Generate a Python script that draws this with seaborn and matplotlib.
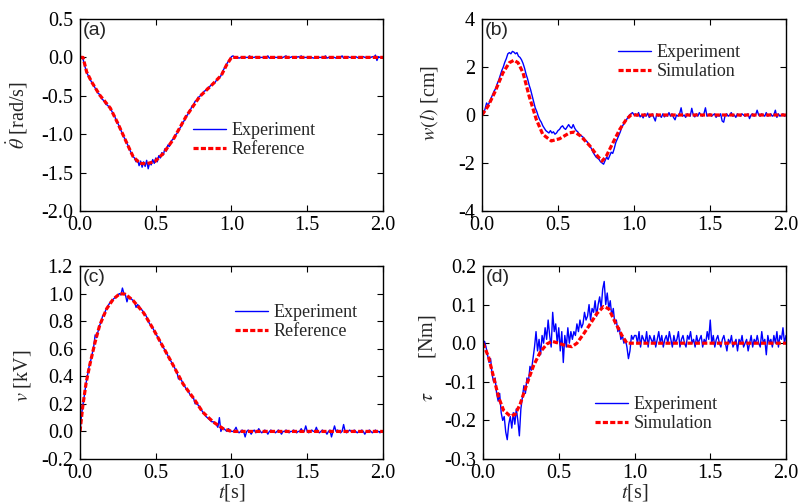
import numpy as np
import pandas as pd
import matplotlib
matplotlib.use("Agg")
import matplotlib.pyplot as plt
import seaborn as sns

# ---------------- data ----------------
dt = 0.01
t_exp = np.round(np.arange(0, 201) * dt, 2)

# (a) angular velocity
ref_a_t = [0.0, 0.02, 0.044, 0.077, 0.13, 0.20, 0.25, 0.31, 0.35, 0.395, 0.44, 0.495,
           0.55, 0.615, 0.70, 0.79, 0.88, 0.934, 0.967, 1.0, 2.0]
ref_a_y = [0.0, 0.0, -0.19, -0.32, -0.49, -0.66, -0.86, -1.12, -1.29, -1.38, -1.385, -1.355,
           -1.25, -1.07, -0.77, -0.51, -0.34, -0.23, -0.10, 0.0, 0.0]
exp_a_move = [0.00, 0.00, -0.02, -0.10, -0.17, -0.22, -0.26, -0.30, -0.33, -0.36,
              -0.40, -0.43, -0.47, -0.48, -0.53, -0.55, -0.57, -0.61, -0.62, -0.64,
              -0.67, -0.70, -0.74, -0.77, -0.83, -0.86, -0.90, -0.95, -0.99, -1.04,
              -1.07, -1.12, -1.16, -1.21, -1.25, -1.29, -1.31, -1.36, -1.33, -1.41,
              -1.35, -1.43, -1.36, -1.42, -1.34, -1.45, -1.37, -1.40, -1.33, -1.38,
              -1.31, -1.36, -1.28, -1.31, -1.24, -1.27, -1.19, -1.22, -1.14, -1.16,
              -1.10, -1.07, -1.06, -1.01, -0.99, -0.96, -0.92, -0.89, -0.84, -0.82,
              -0.76, -0.75, -0.70, -0.68, -0.63, -0.62, -0.57, -0.56, -0.52, -0.51,
              -0.48, -0.47, -0.44, -0.43, -0.40, -0.40, -0.37, -0.36, -0.33, -0.33,
              -0.30, -0.28, -0.26, -0.24, -0.19, -0.15, -0.12, -0.08, -0.05, -0.02,
              0.01]
exp_a_rest = [0.02, 0.00, 0.01, 0.00, -0.01, 0.00, 0.00, 0.01, 0.00, 0.00,
              0.00, 0.02, -0.01, 0.00, 0.00, 0.01, 0.00, -0.01, 0.00, 0.00,
              0.00, 0.01, 0.00, 0.02, -0.01, 0.00, 0.00, 0.01, 0.00, 0.00,
              0.00, 0.00, -0.01, 0.00, 0.01, 0.02, -0.01, 0.00, 0.00, 0.01,
              0.00, 0.00, 0.00, 0.01, 0.00, 0.02, -0.01, 0.00, 0.00, 0.00,
              0.01, 0.00, 0.00, -0.01, 0.00, 0.00, 0.01, 0.00, 0.00, 0.00,
              0.00, 0.02, -0.01, 0.00, 0.00, 0.01, 0.00, 0.00, -0.01, 0.00,
              0.00, 0.00, 0.02, -0.01, 0.00, 0.00, 0.01, 0.00, 0.00, 0.00,
              0.00, 0.01, 0.00, -0.01, 0.00, 0.00, 0.01, 0.00, 0.00, 0.00,
              0.00, 0.00, 0.01, 0.00, 0.03, -0.04, 0.01, 0.00, 0.00, 0.00]

# (b) tip deflection
ref_b_t = [0.0, 0.04, 0.083, 0.138, 0.18, 0.21, 0.237, 0.27, 0.31, 0.357, 0.40, 0.456,
           0.51, 0.577, 0.61, 0.65, 0.71, 0.76, 0.79, 0.818, 0.862, 0.906, 0.95, 0.98, 2.0]
ref_b_y = [0.0, 0.37, 0.93, 1.76, 2.18, 2.28, 2.18, 1.76, 0.79, -0.18, -0.81, -1.08,
           -0.99, -0.74, -0.71, -0.88, -1.29, -1.71, -1.92, -1.71, -1.15, -0.60, -0.18, 0.0, 0.0]
exp_b_move = [0.00, 0.05, 0.25, 0.50, 0.40, 0.55, 0.70, 0.85, 1.00, 1.10,
              1.30, 1.45, 1.65, 1.85, 2.00, 2.20, 2.35, 2.55, 2.60, 2.55,
              2.65, 2.62, 2.55, 2.60, 2.45, 2.40, 2.30, 2.15, 1.95, 1.70,
              1.50, 1.25, 1.05, 0.80, 0.55, 0.30, 0.15, -0.05, -0.20, -0.30,
              -0.45, -0.55, -0.65, -0.70, -0.75, -0.65, -0.75, -0.70, -0.80, -0.75,
              -0.65, -0.60, -0.50, -0.45, -0.55, -0.60, -0.50, -0.40, -0.50, -0.55,
              -0.40, -0.55, -0.65, -0.70, -0.80, -0.85, -0.90, -0.95, -1.05, -1.10,
              -1.20, -1.30, -1.40, -1.55, -1.65, -1.75, -1.80, -1.85, -1.95, -2.00,
              -2.05, -1.90, -1.75, -1.85, -1.70, -1.55, -1.60, -1.40, -1.15, -1.00,
              -0.85, -0.70, -0.50, -0.40, -0.30, -0.20, -0.10, 0.00, 0.05, 0.10,
              0.00]
exp_b_rest = [0.05, -0.05, 0.10, -0.08, 0.00, -0.12, 0.05, -0.05, 0.08, -0.10,
              -0.05, 0.05, -0.10, -0.25, 0.05, -0.05, 0.00, -0.10, 0.05, -0.08,
              0.00, -0.05, 0.10, -0.05, 0.05, -0.10, -0.20, 0.00, -0.05, 0.05,
              0.30, -0.05, 0.00, -0.10, 0.05, 0.00, -0.05, 0.28, 0.00, -0.08,
              0.05, -0.05, 0.10, 0.00, -0.05, 0.05, 0.30, -0.05, 0.00, 0.05,
              -0.05, 0.00, 0.05, -0.10, 0.00, -0.05, 0.05, -0.25, -0.30, 0.00,
              0.05, -0.05, 0.00, 0.10, -0.05, 0.00, -0.10, 0.05, 0.00, -0.05,
              0.05, 0.00, -0.05, 0.00, 0.05, -0.15, 0.00, 0.05, -0.05, 0.00,
              0.20, 0.00, -0.05, 0.05, 0.00, -0.05, 0.10, -0.05, 0.00, 0.05,
              -0.05, 0.00, 0.20, -0.10, 0.05, -0.05, 0.00, 0.05, -0.05, 0.00]

# (c) input voltage
ref_c_t = [0.0, 0.018, 0.04, 0.066, 0.10, 0.13, 0.176, 0.22, 0.264, 0.30, 0.35, 0.42,
           0.485, 0.55, 0.615, 0.68, 0.75, 0.81, 0.88, 0.945, 1.0, 2.0]
ref_c_y = [0.0, 0.18, 0.35, 0.49, 0.65, 0.77, 0.89, 0.96, 1.0, 0.995, 0.95, 0.86,
           0.74, 0.61, 0.48, 0.345, 0.24, 0.14, 0.068, 0.02, 0.0, 0.0]
exp_c_move = [0.00, 0.12, 0.20, 0.27, 0.35, 0.41, 0.47, 0.51, 0.56, 0.61,
              0.70, 0.68, 0.73, 0.77, 0.80, 0.84, 0.85, 0.88, 0.90, 0.92,
              0.94, 0.95, 0.96, 0.97, 0.98, 0.99, 1.00, 0.99, 1.04, 1.00,
              0.99, 0.94, 0.98, 0.97, 0.96, 0.95, 0.94, 0.90, 0.92, 0.91,
              0.89, 0.88, 0.86, 0.85, 0.83, 0.80, 0.78, 0.77, 0.75, 0.73,
              0.71, 0.69, 0.67, 0.65, 0.63, 0.61, 0.59, 0.57, 0.55, 0.53,
              0.51, 0.49, 0.47, 0.45, 0.43, 0.38, 0.39, 0.37, 0.35, 0.33,
              0.31, 0.30, 0.28, 0.26, 0.25, 0.24, 0.20, 0.21, 0.19, 0.18,
              0.16, 0.14, 0.13, 0.11, 0.10, 0.09, 0.08, 0.07, 0.07, 0.06,
              0.05, 0.03, 0.10, 0.00, 0.03, 0.02, 0.01, 0.00, 0.02, 0.01,
              0.00]
exp_c_rest = [0.00, 0.01, 0.03, 0.00, -0.01, 0.00, 0.01, 0.00, -0.04, 0.00,
              0.01, 0.00, -0.02, 0.00, 0.01, -0.01, 0.00, 0.02, 0.00, -0.01,
              0.00, 0.01, 0.00, -0.02, 0.00, 0.01, 0.00, 0.00, -0.01, 0.00,
              0.01, 0.00, -0.02, 0.00, 0.00, 0.01, 0.00, -0.01, 0.00, 0.00,
              0.01, 0.00, -0.01, 0.00, 0.00, 0.02, 0.00, 0.00, 0.04, 0.00,
              -0.01, 0.00, 0.01, 0.00, 0.00, 0.03, 0.00, -0.01, 0.00, 0.01,
              0.00, 0.00, -0.02, 0.00, 0.01, -0.04, 0.00, 0.04, 0.00, 0.01,
              0.00, -0.01, 0.00, 0.05, 0.00, -0.01, 0.00, 0.01, 0.00, 0.00,
              0.01, 0.00, -0.01, 0.00, 0.00, 0.01, 0.00, -0.02, 0.00, 0.00,
              0.01, 0.00, -0.01, 0.00, 0.01, 0.00, 0.00, -0.01, 0.00, 0.00]

# (d) torque
ref_d_t = [0.0, 0.037, 0.07, 0.103, 0.136, 0.18, 0.213, 0.246, 0.29, 0.334, 0.378, 0.422,
           0.455, 0.50, 0.543, 0.587, 0.62, 0.664, 0.708, 0.75, 0.796, 0.83, 0.873, 0.917,
           0.95, 2.0]
ref_d_y = [0.0, -0.036, -0.088, -0.14, -0.174, -0.189, -0.184, -0.157, -0.105, -0.058,
           -0.023, -0.002, 0.005, 0.0, -0.006, -0.009, 0.0, 0.024, 0.05, 0.076, 0.095,
           0.089, 0.054, 0.02, 0.0, 0.0]
exp_d_move = [0.000, 0.005, -0.01, -0.03, -0.05, -0.04, -0.08, -0.10, -0.09, -0.13,
              -0.15, -0.13, -0.18, -0.20, -0.19, -0.23, -0.25, -0.21, -0.19, -0.22,
              -0.18, -0.21, -0.17, -0.20, -0.24, -0.17, -0.14, -0.11, -0.13, -0.09,
              -0.10, -0.06, -0.07, -0.04, -0.01, 0.03, -0.02, 0.01, -0.03, 0.02,
              0.00, 0.04, 0.01, 0.06, 0.02, -0.01, 0.08, 0.03, 0.05, 0.00,
              0.04, -0.02, 0.03, -0.05, 0.02, -0.01, 0.04, 0.00, 0.03, 0.01,
              0.03, 0.02, 0.05, 0.03, 0.06, 0.04, 0.05, 0.08, 0.06, 0.07,
              0.10, 0.06, 0.09, 0.08, 0.11, 0.07, 0.10, 0.12, 0.09, 0.14,
              0.16, 0.10, 0.13, 0.09, 0.11, 0.07, 0.09, 0.05, 0.06, 0.03,
              0.04, 0.01, 0.02, 0.00, 0.01, -0.01, -0.04, -0.02, 0.02, 0.01,
              0.02]
exp_d_rest = [0.02, 0.00, 0.03, -0.01, 0.02, 0.01, 0.00, 0.03, -0.01, 0.02,
              0.01, 0.00, 0.02, -0.01, 0.01, 0.03, 0.00, 0.02, -0.01, 0.01,
              0.02, 0.00, 0.03, 0.01, -0.01, 0.02, 0.00, 0.01, 0.03, -0.01,
              0.01, 0.02, 0.00, -0.01, 0.02, 0.01, 0.03, 0.00, 0.01, -0.01,
              0.02, 0.00, 0.01, 0.02, -0.01, 0.01, 0.00, 0.03, 0.01, 0.06,
              0.00, 0.02, -0.01, 0.01, 0.02, 0.00, -0.01, 0.01, 0.02, 0.00,
              -0.02, 0.01, 0.00, 0.02, -0.01, 0.00, 0.01, -0.02, 0.01, 0.00,
              0.02, -0.01, 0.00, 0.01, -0.02, 0.00, 0.02, -0.01, 0.01, 0.00,
              0.02, 0.00, -0.01, 0.03, 0.00, 0.01, -0.03, 0.02, 0.00, 0.01,
              -0.01, 0.02, 0.00, 0.03, -0.01, 0.02, 0.01, 0.04, 0.00, 0.02]

x_ticks = [0.0, 0.5, 1.0, 1.5, 2.0]
x_ticklabels = ["0.0", "0.5", "1.0", "1.5", "2.0"]
a_yticks = [0.5, 0.0, -0.5, -1.0, -1.5, -2.0]
a_yticklabels = ["0.5", "0.0", "-0.5", "-1.0", "-1.5", "-2.0"]
b_yticks = [4, 2, 0, -2, -4]
b_yticklabels = ["4", "2", "0", "-2", "-4"]
c_yticks = [1.2, 1.0, 0.8, 0.6, 0.4, 0.2, 0.0, -0.2]
c_yticklabels = ["1.2", "1.0", "0.8", "0.6", "0.4", "0.2", "0.0", "-0.2"]
d_yticks = [0.2, 0.1, 0.0, -0.1, -0.2, -0.3]
d_yticklabels = ["0.2", "0.1", "0.0", "-0.1", "-0.2", "-0.3"]

# ---------------- style ----------------
sns.set_style("ticks")
plt.rcParams["font.family"] = ["Liberation Serif", "DejaVu Serif"]
plt.rcParams["mathtext.fontset"] = "stix"
plt.rcParams["axes.unicode_minus"] = False

W, H = 801, 504
fig = plt.figure(figsize=(W / 100, H / 100), dpi=100)


def make_ax(l, r, t, b):
    return fig.add_axes([l / W, 1 - b / H, (r - l) / W, (b - t) / H])


panels = [
    dict(box=(80, 383, 19, 211), exp=exp_a_move + exp_a_rest, rt=ref_a_t, ry=ref_a_y,
         rlabel="Reference", yl=(-2.0, 0.5), yt=a_yticks, ytl=a_yticklabels,
         ylabel=r"$\dot{\theta}$ [rad/s]", ylc=(-0.165, 0.5), tag="(a)",
         leg=(193, 122), xlabel=None),
    dict(box=(482, 786, 19, 211), exp=exp_b_move + exp_b_rest, rt=ref_b_t, ry=ref_b_y,
         rlabel="Simulation", yl=(-4, 4), yt=b_yticks, ytl=b_yticklabels,
         ylabel=r"$w(l)$ [cm]", ylc=(-0.138, 0.56), tag="(b)",
         leg=(618, 44), xlabel=None),
    dict(box=(80, 383, 266, 459), exp=exp_c_move + exp_c_rest, rt=ref_c_t, ry=ref_c_y,
         rlabel="Reference", yl=(-0.2, 1.2), yt=c_yticks, ytl=c_yticklabels,
         ylabel=r"$v$ [kV]", ylc=(-0.155, 0.43), tag="(c)",
         leg=(235, 304), xlabel=r"$t$[s]"),
    dict(box=(483, 786, 266, 459), exp=exp_d_move + exp_d_rest, rt=ref_d_t, ry=ref_d_y,
         rlabel="Simulation", yl=(-0.3, 0.2), yt=d_yticks, ytl=d_yticklabels,
         ylabel=r"$\tau$       [Nm]", ylc=(-0.148, 0.52), tag="(d)",
         leg=(595, 396), xlabel=r"$t$[s]"),
]

for p in panels:
    ax = make_ax(*p["box"])
    df_exp = pd.DataFrame({"t": t_exp, "y": p["exp"]})
    df_ref = pd.DataFrame({"t": p["rt"], "y": p["ry"]})
    sns.lineplot(data=df_exp, x="t", y="y", ax=ax, color="#0000ff", lw=1.0,
                 label="Experiment", estimator=None)
    sns.lineplot(data=df_ref, x="t", y="y", ax=ax, color="#ff0000", lw=2.3,
                 linestyle=(0, (1.6, 0.7)), label=p["rlabel"], estimator=None)
    ax.set_xlim(0, 2.0)
    ax.set_ylim(*p["yl"])
    ax.set_xticks(x_ticks)
    ax.set_xticklabels(x_ticklabels)
    ax.set_yticks(p["yt"])
    ax.set_yticklabels(p["ytl"])
    ax.tick_params(direction="in", top=True, right=True, length=4, width=0.8,
                   labelsize=14.5, colors="black")
    ax.tick_params(axis="x", pad=3.5)
    ax.tick_params(axis="y", pad=5)
    for s in ax.spines.values():
        s.set_linewidth(1.0)
        s.set_color("black")
    ax.set_ylabel(p["ylabel"], fontsize=14.5)
    ax.yaxis.set_label_coords(*p["ylc"])
    if p["xlabel"]:
        ax.set_xlabel(p["xlabel"], fontsize=14.5)
        ax.xaxis.set_label_coords(0.5, -0.12)
    else:
        ax.set_xlabel("")
    ax.text(0.01, 0.984, p["tag"], transform=ax.transAxes, ha="left", va="top",
            family=["Liberation Sans", "DejaVu Sans"], fontsize=14)
    lx, ly = p["leg"]
    ax.legend(loc="upper left", bbox_to_anchor=(lx / W, 1 - ly / H),
              bbox_transform=fig.transFigure, frameon=False, fontsize=13,
              handlelength=1.85, handletextpad=0.3, labelspacing=0.12,
              borderpad=0, borderaxespad=0)

fig.savefig("out.png", dpi=100)
